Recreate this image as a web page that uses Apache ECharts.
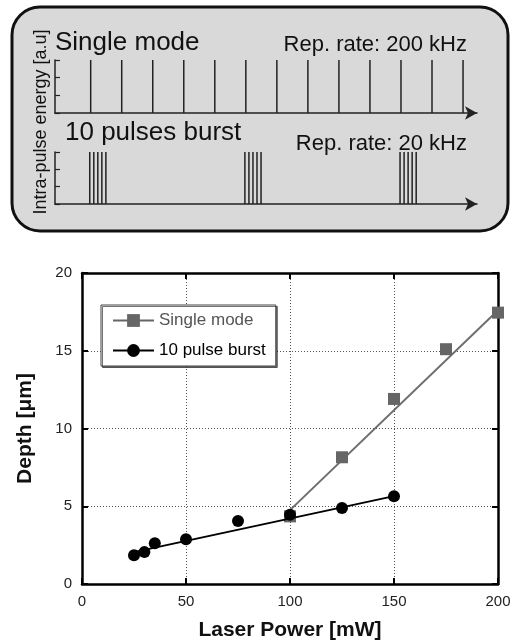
<!DOCTYPE html>
<html>
<head>
<meta charset="utf-8">
<script src="https://cdn.jsdelivr.net/npm/echarts@6/dist/echarts.min.js"></script>
<style>
  html, body { margin: 0; padding: 0; background: #fff; }
  #main { width: 523px; height: 644px; }
</style>
</head>
<body>
<div id="main"></div>
<script>
// measured points (laser power mW, depth um)
const singleMode = [[100, 4.35], [125, 8.15], [150, 11.9], [175, 15.1], [200, 17.45]];
const burstMode = [[25, 1.85], [30, 2.05], [35, 2.62], [50, 2.88], [75, 4.05], [100, 4.45], [125, 4.88], [150, 5.65]];
// fitted lines (end points)
const singleFit = [[100, 4.75], [200, 17.6]];
const burstFit = [[25, 2.05], [150, 5.65]];

const xTicks = { min: 0, max: 200, interval: 50 };
const yTicks = { min: 0, max: 20, interval: 5 };

// schematic pulse trains (time in us, height a.u.)
const singlePulses = [5.75, 10.75, 15.75, 20.75, 25.75, 30.75, 35.75, 40.75, 45.75, 50.75, 55.75, 60.75, 65.75];
const burstPulses = [5.6, 6.25, 6.9, 7.55, 8.2, 30.6, 31.25, 31.9, 32.55, 33.2, 55.6, 56.25, 56.9, 57.55, 58.2];
const pulseHeight = 3;

const font = '"Liberation Sans", Arial, Helvetica, sans-serif';

var myChart = echarts.init(document.getElementById('main'));

function schemX(gridIndex) {
  return {
    gridIndex: gridIndex, type: 'value', min: 0, max: 68,
    axisLine: { show: true, symbol: ['none', 'arrow'], symbolSize: [10, 12], lineStyle: { color: '#222', width: 1.5 } },
    axisTick: { show: false }, axisLabel: { show: false }, splitLine: { show: false }
  };
}
function schemY(gridIndex) {
  return {
    gridIndex: gridIndex, type: 'value', min: 0, max: 3, interval: 1,
    axisLine: { show: true, lineStyle: { color: '#222', width: 1.5 } },
    axisTick: { show: true, inside: true, length: 5, lineStyle: { color: '#222', width: 1.2 } },
    axisLabel: { show: false }, splitLine: { show: false }
  };
}

const boxLine = { show: true, onZero: false, lineStyle: { color: '#000', width: 2.5 } };
const inTick = { show: true, inside: true, length: 6, lineStyle: { color: '#000', width: 2 } };
const dotGrid = { show: true, lineStyle: { color: '#555', type: [1, 2], width: 1 } };

myChart.setOption({
  animation: false,
  textStyle: { fontFamily: font },
  graphic: [
    { type: 'rect', z: -10, shape: { x: 12, y: 7, width: 496, height: 224, r: 28 },
      style: { fill: '#d9d9d9', stroke: '#111', lineWidth: 3 } },
    { type: 'text', z: 10, style: { text: 'Single mode', x: 55, y: 43, font: '26px ' + font, fill: '#111', textVerticalAlign: 'middle' } },
    { type: 'text', z: 10, style: { text: 'Rep. rate: 200 kHz', x: 467, y: 45, font: '22px ' + font, fill: '#111', textAlign: 'right', textVerticalAlign: 'middle' } },
    { type: 'text', z: 10, style: { text: '10 pulses burst', x: 65, y: 133, font: '26px ' + font, fill: '#111', textVerticalAlign: 'middle' } },
    { type: 'text', z: 10, style: { text: 'Rep. rate: 20 kHz', x: 467, y: 144, font: '22px ' + font, fill: '#111', textAlign: 'right', textVerticalAlign: 'middle' } },
    { type: 'text', z: 10, x: 41, y: 122, rotation: Math.PI / 2,
      style: { text: 'Intra-pulse energy [a.u]', x: 0, y: 0, font: '18px ' + font, fill: '#111', textAlign: 'center', textVerticalAlign: 'middle' } }
  ],
  grid: [
    { left: 82, right: 25, top: 273, bottom: 60 },
    { left: 55, right: 46, top: 60, height: 53 },
    { left: 55, right: 46, top: 152, height: 52 }
  ],
  legend: {
    orient: 'vertical', left: 101, top: 305,
    padding: [7, 10, 7, 11], itemGap: 13, itemWidth: 41, itemHeight: 16,
    backgroundColor: '#fff', borderColor: '#444', borderWidth: 1,
    shadowColor: 'rgba(0,0,0,0.55)', shadowOffsetX: 1.5, shadowOffsetY: 1.5, shadowBlur: 0,
    textStyle: { fontSize: 17, fontFamily: font },
    data: [
      { name: 'Single mode', lineStyle: { color: '#666', width: 2, opacity: 1 }, textStyle: { color: '#555' } },
      { name: '10 pulse burst', lineStyle: { color: '#000', width: 2, opacity: 1 }, textStyle: { color: '#000' } }
    ]
  },
  xAxis: [
    { gridIndex: 0, type: 'value', position: 'bottom', min: xTicks.min, max: xTicks.max, interval: xTicks.interval,
      name: 'Laser Power [mW]', nameLocation: 'middle', nameGap: 36,
      nameTextStyle: { fontSize: 21, fontWeight: 'bold', color: '#111', fontFamily: font },
      axisLine: boxLine, axisTick: inTick, splitLine: dotGrid,
      axisLabel: { fontSize: 15, color: '#222', margin: 10, fontFamily: font } },
    { gridIndex: 0, type: 'value', position: 'top', min: xTicks.min, max: xTicks.max, interval: xTicks.interval,
      axisLine: boxLine, axisTick: inTick, splitLine: { show: false }, axisLabel: { show: false } },
    schemX(1),
    schemX(2)
  ],
  yAxis: [
    { gridIndex: 0, type: 'value', position: 'left', min: yTicks.min, max: yTicks.max, interval: yTicks.interval,
      name: 'Depth [\u03bcm]', nameLocation: 'middle', nameGap: 46,
      nameTextStyle: { fontSize: 21, fontWeight: 'bold', color: '#111', fontFamily: font },
      axisLine: boxLine, axisTick: inTick, splitLine: dotGrid,
      axisLabel: { fontSize: 15, color: '#222', margin: 10, fontFamily: font } },
    { gridIndex: 0, type: 'value', position: 'right', min: yTicks.min, max: yTicks.max, interval: yTicks.interval,
      axisLine: boxLine, axisTick: inTick, splitLine: { show: false }, axisLabel: { show: false } },
    schemY(1),
    schemY(2)
  ],
  series: [
    { name: 'Single mode fit', type: 'line', xAxisIndex: 0, yAxisIndex: 0, data: singleFit,
      symbol: 'none', lineStyle: { color: '#6e6e6e', width: 2 }, z: 2 },
    { name: 'Single mode', type: 'line', xAxisIndex: 0, yAxisIndex: 0, data: singleMode,
      symbol: 'rect', symbolSize: 12, itemStyle: { color: '#666' },
      lineStyle: { width: 0, opacity: 0 }, z: 3 },
    { name: '10 pulse burst fit', type: 'line', xAxisIndex: 0, yAxisIndex: 0, data: burstFit,
      symbol: 'none', lineStyle: { color: '#000', width: 2 }, z: 4 },
    { name: '10 pulse burst', type: 'line', xAxisIndex: 0, yAxisIndex: 0, data: burstMode,
      symbol: 'circle', symbolSize: 12, itemStyle: { color: '#000' },
      lineStyle: { width: 0, opacity: 0 }, z: 5 },
    { name: 'single pulses', type: 'bar', xAxisIndex: 2, yAxisIndex: 2, barWidth: 1.5,
      data: singlePulses.map(t => [t, pulseHeight]), itemStyle: { color: '#222' } },
    { name: 'burst pulses', type: 'bar', xAxisIndex: 3, yAxisIndex: 3, barWidth: 1.5,
      data: burstPulses.map(t => [t, pulseHeight]), itemStyle: { color: '#222' } }
  ]
});
</script>
</body>
</html>
